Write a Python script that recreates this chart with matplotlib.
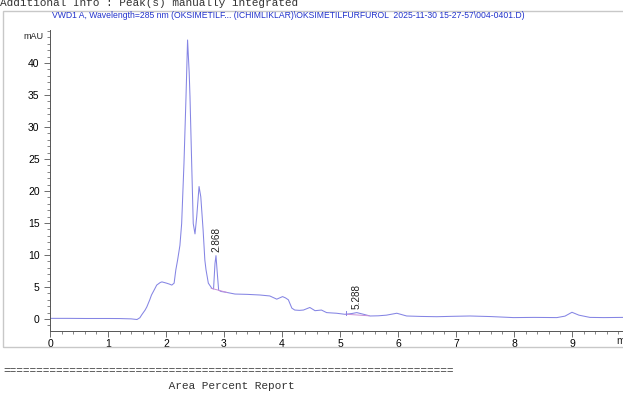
import matplotlib
matplotlib.use("Agg")
import matplotlib.pyplot as plt
from matplotlib.ticker import MultipleLocator
from matplotlib.patches import Rectangle

# signal (min, mAU)
time = [0.0, 0.3, 0.6, 1.0, 1.2, 1.4, 1.47, 1.50, 1.55, 1.58, 1.64, 1.67, 1.72, 1.75,
        1.80, 1.84, 1.90, 1.93, 2.01, 2.06, 2.10, 2.14, 2.17, 2.20, 2.24, 2.27, 2.31,
        2.345, 2.372, 2.40, 2.414, 2.443, 2.47, 2.50, 2.53, 2.57, 2.60, 2.64, 2.67,
        2.69, 2.73, 2.79, 2.82, 2.845, 2.862, 2.885, 2.908, 2.95, 3.02, 3.19, 3.40,
        3.62, 3.79, 3.91, 3.96, 4.01, 4.06, 4.11, 4.17, 4.22, 4.30, 4.37, 4.48, 4.57,
        4.68, 4.77, 4.85, 4.94, 5.09, 5.20, 5.29, 5.40, 5.52, 5.66, 5.80, 5.98, 6.15,
        6.40, 6.67, 6.95, 7.24, 7.60, 7.99, 8.35, 8.74, 8.88, 9.0, 9.12, 9.31, 9.55, 9.88]
signal = [0.1, 0.1, 0.08, 0.08, 0.07, 0.02, -0.05, -0.08, 0.2, 0.63, 1.4, 1.9, 3.0, 3.75,
          4.6, 5.3, 5.7, 5.8, 5.6, 5.45, 5.3, 5.6, 7.7, 9.2, 11.5, 14.9, 24.3,
          34.7, 43.6, 38.5, 34.7, 24.3, 14.9, 13.3, 16.0, 20.7, 19.1, 13.9, 9.2,
          7.7, 5.6, 4.8, 4.7, 8.7, 9.9, 7.1, 4.5, 4.3, 4.2, 3.9, 3.85,
          3.75, 3.6, 3.1, 3.3, 3.5, 3.3, 3.0, 1.7, 1.4, 1.35, 1.4, 1.8, 1.3,
          1.4, 1.0, 0.95, 0.9, 0.73, 0.85, 1.0, 0.75, 0.47, 0.5, 0.6, 0.9, 0.47,
          0.4, 0.36, 0.42, 0.47, 0.38, 0.22, 0.25, 0.22, 0.45, 1.05, 0.6, 0.25, 0.22, 0.25]

# labelled peaks
peak_rt = [2.868, 5.288]
peak_h = [9.9, 1.0]
peak_lbl = ["2.868", "5.288"]

# integration baselines (start, end)
base_t = [[2.78, 3.05], [5.10, 5.50]]
base_v = [[4.8, 4.15], [0.75, 0.5]]

title = r"VWD1 A, Wavelength=285 nm (OKSIMETILF... (ICHIMLIKLAR)\OKSIMETILFURFUROL  2025-11-30 15-27-57\004-0401.D)"

W, H = 623, 393
fig = plt.figure(figsize=(W / 100, H / 100), dpi=100)
fig.patch.set_facecolor("white")

# gray frame around the chart region
fig.patches.append(Rectangle((3 / W, 1 - 347 / H), 1.0, (347 - 11) / H,
                             transform=fig.transFigure, fill=False,
                             edgecolor="#c8c8c8", lw=1.0))

ax = fig.add_axes([50 / W, 1 - 331 / H, (W - 50) / W, (331 - 30) / H])
ax.plot(time, signal, color="#8585e4", lw=0.75)
for bt, bv in zip(base_t, base_v):
    ax.plot(bt, bv, color="#c890d8", lw=0.7)
ax.plot([5.1, 5.1], [0.6, 1.3], color="#8585e4", lw=0.7)

for t, h, s in zip(peak_rt, peak_h, peak_lbl):
    ax.text(t, h + 0.5, s, rotation=90, ha="center", va="bottom",
            fontsize=7.2, family="Liberation Sans", color="#222222")

ax.set_xlim(0, 9.88)
ax.set_ylim(-1.875, 45.16)
ax.xaxis.set_major_locator(MultipleLocator(1))
ax.xaxis.set_minor_locator(MultipleLocator(0.2))
ax.set_yticks([0, 5, 10, 15, 20, 25, 30, 35, 40])
ax.yaxis.set_minor_locator(MultipleLocator(1))
for sp in ["top", "right"]:
    ax.spines[sp].set_visible(False)
for sp in ["left", "bottom"]:
    ax.spines[sp].set_color("#555555")
    ax.spines[sp].set_linewidth(0.7)
ax.tick_params(which="major", length=4, width=0.6, color="#555555", labelsize=7.5)
ax.tick_params(axis="x", which="major", pad=1.5)
ax.tick_params(which="minor", length=2, width=0.5, color="#555555")
for lab in ax.get_xticklabels() + ax.get_yticklabels():
    lab.set_family("Liberation Sans")

ax.text(-0.12, 44.2, "mAU", ha="right", va="center", fontsize=6.5,
        family="Liberation Sans", color="#222222")
fig.text(616 / W, 1 - 341 / H, "min", ha="left", va="center", fontsize=7.5,
         family="Liberation Sans", color="#222222")

fig.text(52 / W, 1 - 16 / H, title, ha="left", va="center", fontsize=6.2,
         family="Liberation Sans", color="#2233cc")

fig.text(0, 1 - 3 / H, "Additional Info : Peak(s) manually integrated",
         ha="left", va="center", fontsize=8, family="Liberation Mono", color="#333333")
fig.text(3 / W, 1 - 371 / H, "=" * 68, ha="left", va="center", fontsize=8,
         family="Liberation Mono", color="#333333")
fig.text(3 / W, 1 - 386 / H, " " * 25 + "Area Percent Report", ha="left", va="center",
         fontsize=8, family="Liberation Mono", color="#333333")

fig.savefig("out.png", dpi=100)
